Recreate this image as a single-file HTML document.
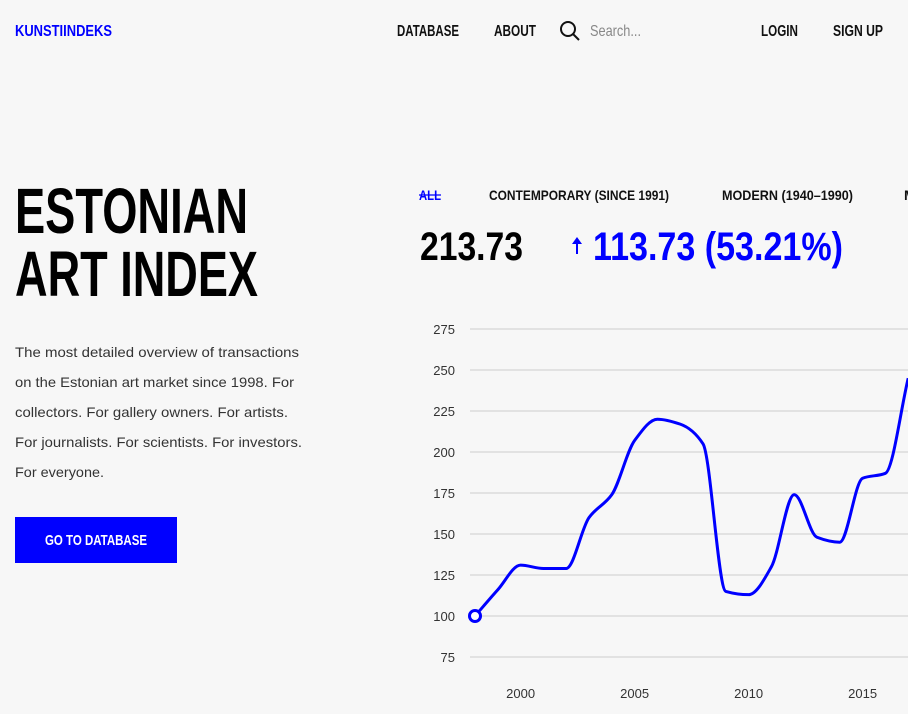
<!DOCTYPE html>
<html><head><meta charset="utf-8"><style>
html,body{margin:0;padding:0;background:#f7f7f7;width:908px;height:714px;overflow:hidden}
svg{display:block;font-family:"Liberation Sans",sans-serif}
.b{font-weight:bold}
</style></head><body>
<svg id="page" width="908" height="714" viewBox="0 0 908 714">
<rect x="0" y="0" width="908" height="714" fill="#f7f7f7"/>
<g>
<text class="b" x="15" y="36" font-size="16" fill="#0000ff" textLength="97" lengthAdjust="spacingAndGlyphs">KUNSTIINDEKS</text>
<text class="b" x="397" y="36" font-size="16" fill="#111" textLength="62" lengthAdjust="spacingAndGlyphs">DATABASE</text>
<text class="b" x="494" y="36" font-size="16" fill="#111" textLength="42" lengthAdjust="spacingAndGlyphs">ABOUT</text>
<g><circle cx="568" cy="29" r="7" fill="none" stroke="#111" stroke-width="2"/><line x1="573" y1="34" x2="579" y2="40" stroke="#111" stroke-width="2"/></g>
<text x="590" y="36" font-size="16" fill="#888" textLength="51" lengthAdjust="spacingAndGlyphs">Search...</text>
<text class="b" x="761" y="36" font-size="16" fill="#111" textLength="37" lengthAdjust="spacingAndGlyphs">LOGIN</text>
<text class="b" x="833" y="36" font-size="16" fill="#111" textLength="50" lengthAdjust="spacingAndGlyphs">SIGN UP</text>
</g>
<text class="b" x="15" y="233" font-size="64" fill="#000" textLength="233" lengthAdjust="spacingAndGlyphs">ESTONIAN</text>
<text class="b" x="15" y="296" font-size="64" fill="#000" textLength="243" lengthAdjust="spacingAndGlyphs">ART INDEX</text>
<g font-size="14" fill="#333">
<text x="15" y="357" textLength="284" lengthAdjust="spacingAndGlyphs">The most detailed overview of transactions</text>
<text x="15" y="387" textLength="279" lengthAdjust="spacingAndGlyphs">on the Estonian art market since 1998. For</text>
<text x="15" y="417" textLength="273" lengthAdjust="spacingAndGlyphs">collectors. For gallery owners. For artists.</text>
<text x="15" y="447" textLength="287" lengthAdjust="spacingAndGlyphs">For journalists. For scientists. For investors.</text>
<text x="15" y="477" textLength="89" lengthAdjust="spacingAndGlyphs">For everyone.</text>
</g>
<g>
<rect x="15" y="517" width="162" height="46" fill="#0000ff"/>
<text class="b" x="45" y="545" font-size="15" fill="#fff" textLength="102" lengthAdjust="spacingAndGlyphs">GO TO DATABASE</text>
</g>
<g>
<text class="b" x="419" y="200" font-size="14" fill="#0000ff" textLength="22" lengthAdjust="spacingAndGlyphs">ALL</text>
<line x1="419" y1="195" x2="441" y2="195" stroke="#0000ff" stroke-width="1.3"/>
<text class="b" x="489" y="200" font-size="14" fill="#111" textLength="180" lengthAdjust="spacingAndGlyphs">CONTEMPORARY (SINCE 1991)</text>
<text class="b" x="722" y="200" font-size="14" fill="#111" textLength="131" lengthAdjust="spacingAndGlyphs">MODERN (1940–1990)</text>
<text class="b" x="904" y="200" font-size="14" fill="#111">M</text>
</g>
<text class="b" x="420" y="260" font-size="40" fill="#000" textLength="103" lengthAdjust="spacingAndGlyphs">213.73</text>
<g><line x1="577" y1="242" x2="577" y2="254" stroke="#0000ff" stroke-width="2"/><polygon points="572,244 577,237 582,244" fill="#0000ff"/></g>
<text class="b" x="593" y="260" font-size="40" fill="#0000ff" textLength="250" lengthAdjust="spacingAndGlyphs">113.73 (53.21%)</text>
<g id="chart"></g>
</svg>
<script>
const years=[1998,1999,2000,2001,2002,2003,2004,2005,2006,2007,2008,2009,2010,2011,2012,2013,2014,2015,2016,2017];
const values=[100,116,131,129,129,160,174,207,220,217,205,115,113,130,174,148,145,184,187,245];
const yTicks=[75,100,125,150,175,200,225,250,275];
const xTicks=[2000,2005,2010,2015];
const NS="http://www.w3.org/2000/svg";
const g=document.getElementById('chart');
function xs(v){return 475+(v-1998)*22.8;}
function ys(v){return 616-(v-100)*1.64;}
function mk(t,a){const e=document.createElementNS(NS,t);for(const k in a)e.setAttribute(k,a[k]);g.appendChild(e);return e;}
yTicks.forEach(t=>{
const l=mk('line',{x1:470,x2:908,y1:ys(t),y2:ys(t),stroke:'#e2e2e2','stroke-width':2});


const tx=mk('text',{x:455,y:ys(t)+5,'text-anchor':'end','font-size':13,fill:'#333'});
tx.textContent=t;


});
xTicks.forEach(t=>{
const tx=mk('text',{x:xs(t),y:698,'text-anchor':'middle','font-size':13,fill:'#333'});
tx.textContent=t;


});
const P=years.map((y,i)=>[xs(y),ys(values[i])]);
const n=P.length,d=[],m=[];
for(let i=0;i<n-1;i++)d.push((P[i+1][1]-P[i][1])/(P[i+1][0]-P[i][0]));
for(let i=0;i<n;i++){
if(i===0)m.push(d[0]);else if(i===n-1)m.push(d[n-2]);
else if(d[i-1]*d[i]<=0)m.push(0);else m.push(2/(1/d[i-1]+1/d[i]));
}
let path='M'+P[0][0]+','+P[0][1];
for(let i=0;i<n-1;i++){const h=(P[i+1][0]-P[i][0])/3;
path+=' C'+(P[i][0]+h)+','+(P[i][1]+m[i]*h)+' '+(P[i+1][0]-h)+','+(P[i+1][1]-m[i+1]*h)+' '+P[i+1][0]+','+P[i+1][1];}
const ln=mk('path',{d:path,fill:'none',stroke:'#0000ff','stroke-width':3});


const c=mk('circle',{cx:P[0][0],cy:P[0][1],r:5.5,fill:'#fff',stroke:'#0000ff','stroke-width':3});


</script>
</body></html>
